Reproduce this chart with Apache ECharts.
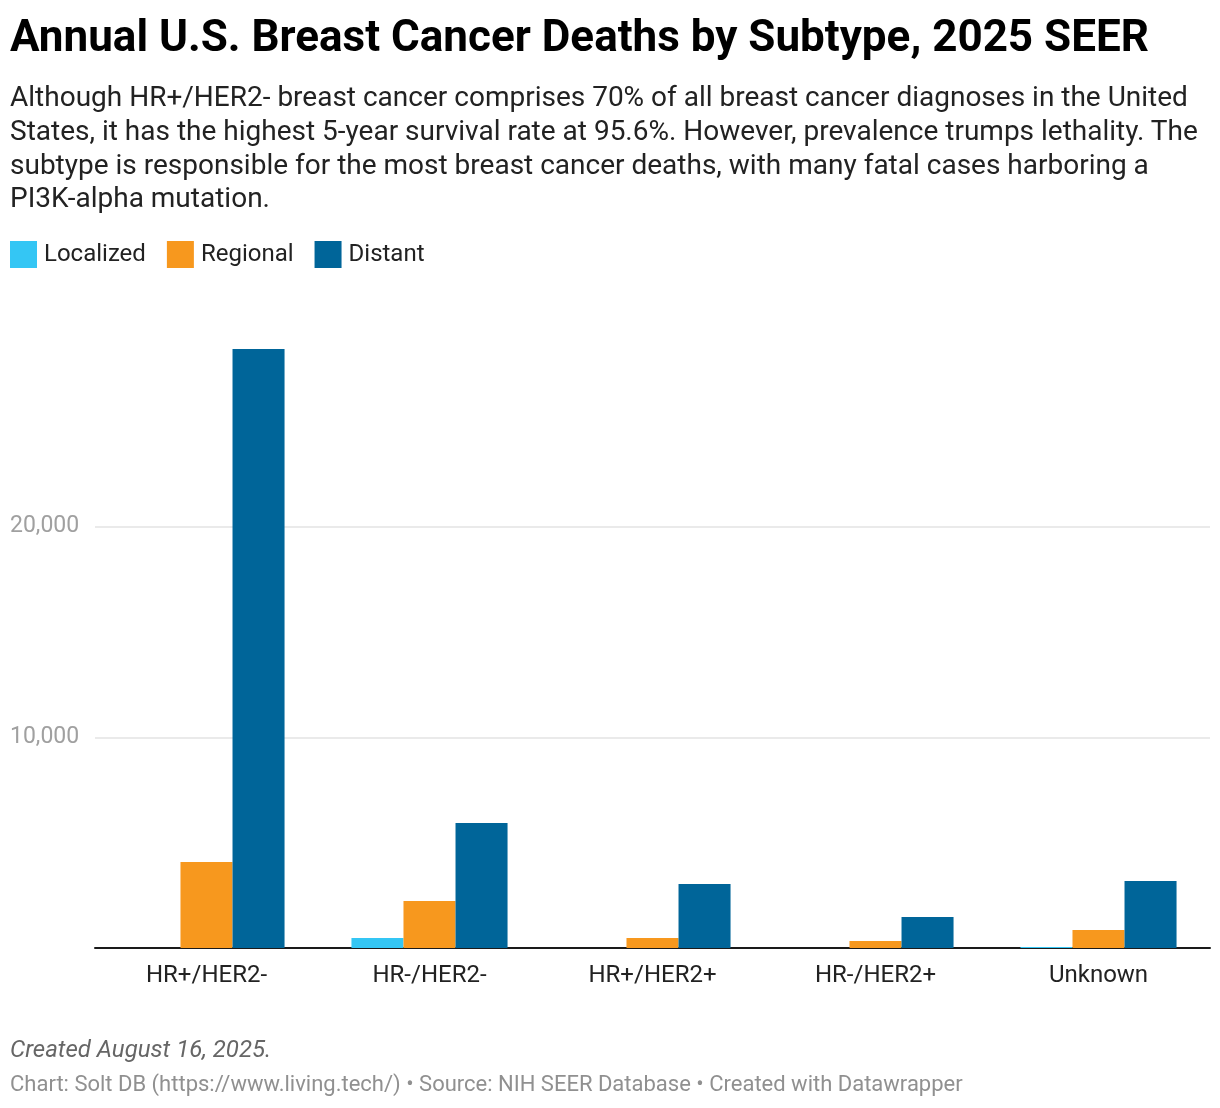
<!DOCTYPE html>
<html>
<head>
<meta charset="utf-8">
<script src="https://cdn.jsdelivr.net/npm/echarts@6/dist/echarts.min.js"></script>
<style>
  html, body { margin: 0; padding: 0; background: #fff; }
  body { width: 1220px; height: 1108px; position: relative; overflow: hidden; font-family: Roboto, sans-serif; }
  .t { position: absolute; left: 10px; white-space: nowrap; }
  #title { top: 10px; font-size: 44px; line-height: 52px; font-weight: 700; color: #000; }
  #sub { top: 80px; font-size: 28px; line-height: 33.8px; color: #222; }
  #created { top: 1035px; font-size: 24px; line-height: 28px; font-style: italic; color: #666; }
  #credit { top: 1071px; font-size: 22px; line-height: 26px; color: #909090; }
  #chart { position: absolute; left: 0; top: 0; width: 1220px; height: 1108px; }
</style>
</head>
<body>
<div id="chart"></div>
<div class="t" id="title">Annual U.S. Breast Cancer Deaths by Subtype, 2025 SEER</div>
<div class="t" id="sub">Although HR+/HER2- breast cancer comprises 70% of all breast cancer diagnoses in the United<br>States, it has the highest 5-year survival rate at 95.6%. However, prevalence trumps lethality. The<br>subtype is responsible for the most breast cancer deaths, with many fatal cases harboring a<br>PI3K-alpha mutation.</div>
<div class="t" id="created">Created August 16, 2025.</div>
<div class="t" id="credit">Chart: Solt DB (https://www.living.tech/) • Source: NIH SEER Database • Created with Datawrapper</div>
<script>
const categories = ['HR+/HER2-', 'HR-/HER2-', 'HR+/HER2+', 'HR-/HER2+', 'Unknown'];
const seriesNames = ['Localized', 'Regional', 'Distant'];
const localized = [0, 475, 0, 0, 47];
const regional = [4082, 2231, 475, 332, 854];
const distant = [28430, 5933, 3038, 1471, 3180];
const yTicks = [0, 10000, 20000, 30000];
const colors = ['#34c6f4', '#f7981e', '#006599'];

const chart = echarts.init(document.getElementById('chart'), null, { renderer: 'canvas' });
const values = [localized, regional, distant];
chart.setOption({
  animation: false,
  textStyle: { fontFamily: 'Roboto, sans-serif' },
  color: colors,
  legend: {
    left: 10, top: 241, padding: 0,
    itemWidth: 27, itemHeight: 27, itemGap: 21,
    icon: 'rect',
    textStyle: { fontSize: 24, color: '#222', padding: [2, 0, 0, 2] },
    data: seriesNames
  },
  grid: { left: 95, right: 10, top: 316, bottom: 160, containLabel: false },
  xAxis: {
    type: 'category',
    data: categories,
    axisLine: { lineStyle: { color: '#1a1a1a', width: 2 } },
    axisTick: { show: false },
    axisLabel: { fontSize: 24, color: '#222', margin: 16 }
  },
  yAxis: {
    type: 'value',
    min: yTicks[0], max: yTicks[yTicks.length - 1], interval: 10000,
    axisLine: { show: false },
    axisTick: { show: false },
    axisLabel: {
      align: 'left', margin: 85, fontSize: 23, color: '#a0a0a0', padding: [3, 0, 0, 0],
      formatter: v => (v === 10000 || v === 20000) ? v.toLocaleString('en-US') : ''
    },
    splitLine: { lineStyle: { color: ['rgba(0,0,0,0)', '#e3e3e3', '#e3e3e3', 'rgba(0,0,0,0)'], width: 1.5 } }
  },
  series: seriesNames.map((n, i) => ({
    name: n,
    type: 'bar',
    data: values[i],
    barGap: '0%',
    barCategoryGap: '30%',
    itemStyle: { color: colors[i] }
  }))
});
</script>
</body>
</html>
